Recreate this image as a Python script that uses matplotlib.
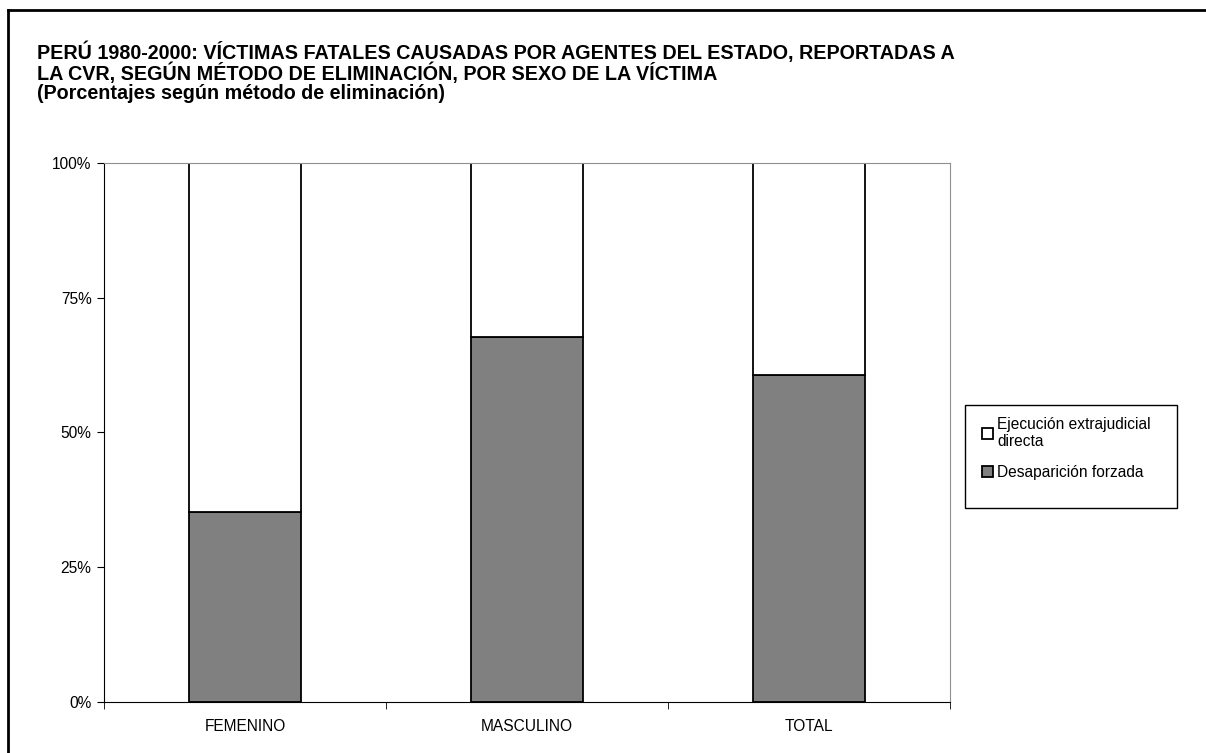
import matplotlib.pyplot as plt
from matplotlib.patches import Rectangle
import numpy as np

plt.rcParams['font.family'] = ['Liberation Sans', 'DejaVu Sans']

categories = ["FEMENINO", "MASCULINO", "TOTAL"]
desaparicion = [35.3, 67.8, 60.7]
ejecucion = [100 - v for v in desaparicion]
series_names = ["Ejecución extrajudicial\ndirecta", "Desaparición forzada"]
yticks = [0, 25, 50, 75, 100]
ylabels = ["0%", "25%", "50%", "75%", "100%"]

title = ("PERÚ 1980-2000: VÍCTIMAS FATALES CAUSADAS POR AGENTES DEL ESTADO, REPORTADAS A\n"
         "LA CVR, SEGÚN MÉTODO DE ELIMINACIÓN, POR SEXO DE LA VÍCTIMA\n"
         "(Porcentajes según método de eliminación)")

W, H = 1206, 753
fs = 11.2
fig = plt.figure(figsize=(W / 100, H / 100), dpi=100)
ax = fig.add_axes([104 / W, 1 - 702 / H, (950 - 104) / W, (702 - 163) / H])

x = np.arange(len(categories))
b1 = ax.bar(x, desaparicion, width=0.4, color="#808080", edgecolor="black", linewidth=1.3)
b2 = ax.bar(x, ejecucion, bottom=desaparicion, width=0.4, color="white",
            edgecolor="black", linewidth=1.3)

ax.set_xlim(-0.5, 2.5)
ax.set_ylim(0, 100)
ax.set_yticks(yticks)
ax.set_yticklabels(ylabels, fontsize=fs)
ax.set_xticks(x)
ax.set_xticklabels(categories, fontsize=fs)
ax.tick_params(axis="x", length=0, pad=12)
ax.set_xticks([-0.5, 0.5, 1.5, 2.5], minor=True)
ax.tick_params(axis="x", which="minor", length=5, direction="out")
ax.tick_params(axis="y", length=5, direction="out", pad=4)

for s in ["top", "right"]:
    ax.spines[s].set_color("#909090")
for s in ["left", "bottom"]:
    ax.spines[s].set_color("black")

leg = ax.legend([b2, b1], series_names, loc="upper left",
                bbox_to_anchor=(982 / W, 1 - 417 / H), bbox_transform=fig.transFigure,
                frameon=False, fontsize=fs,
                handlelength=0.72, handleheight=0.72, handletextpad=0.25,
                borderpad=0, labelspacing=1.05, borderaxespad=0)
for t in leg.get_texts():
    t.set_linespacing(1.15)
fig.add_artist(Rectangle((965 / W, 1 - 508 / H), (1177 - 965) / W, (508 - 405) / H,
                         transform=fig.transFigure, fill=False, edgecolor="black", lw=1.0))

fig.text(37 / W, 1 - 42 / H, title, fontsize=14.2, fontweight="bold",
         va="top", ha="left", linespacing=0.96)

# outer frame (top and left edges)
fig.add_artist(plt.Line2D([8 / W, 1], [1 - 9.5 / H, 1 - 9.5 / H], color="black", lw=2))
fig.add_artist(plt.Line2D([8 / W, 8 / W], [0, 1 - 9.5 / H], color="black", lw=2))

fig.savefig("out.png", dpi=100)
